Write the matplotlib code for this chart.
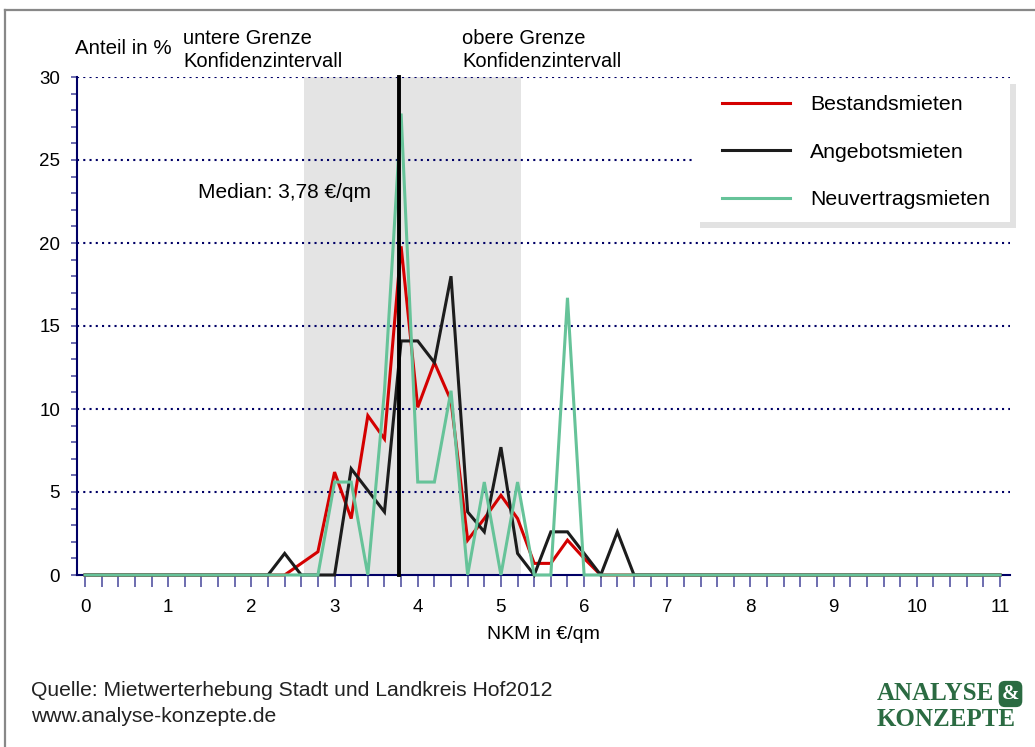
import numpy as np
import matplotlib.pyplot as plt
from matplotlib.patches import Rectangle
from matplotlib.lines import Line2D

# NKM in €/qm, Klassen in 0,2er Schritten
nkm = np.round(np.arange(0, 11.01, 0.2), 1)

# Anteil in % je Klasse (0,0 ... 2,0 sind leer)
bestand = [0.0] * 13 + [0.7, 1.4, 6.2, 3.4, 9.6, 8.2, 19.8, 10.1, 12.8, 10.5, 2.1, 3.4, 4.8, 3.4,
                        0.7, 0.7, 2.1, 1.0] + [0.0] * 25
angebot = [0.0] * 12 + [1.3, 0.0, 0.0, 0.0, 6.4, 5.1, 3.8, 14.1, 14.1, 12.8, 18.0, 3.8, 2.6, 7.7,
                        1.3, 0.0, 2.6, 2.6, 1.3, 0.0, 2.6] + [0.0] * 23
neuvertrag = [0.0] * 15 + [5.6, 5.6, 0.0, 11.1, 27.8, 5.6, 5.6, 11.1, 0.0, 5.6, 0.0, 5.6, 0.0,
                           0.0, 16.7] + [0.0] * 26

median = 3.78
ki_unten, ki_oben = 2.63, 5.24

serien = ["Bestandsmieten", "Angebotsmieten", "Neuvertragsmieten"]
farben = ["#d40000", "#1c1c1c", "#66c399"]

W, H = 1035, 747
navy = "#000066"
plt.rcParams['font.family'] = ['Liberation Sans', 'DejaVu Sans']


def fx(px):
    return px / W


def fy(py):
    return 1 - py / H


fig = plt.figure(figsize=(W / 100, H / 100), dpi=100)
ax = fig.add_axes([fx(76.7), fy(575), (1010 - 76.7) / W, (575 - 77) / H])

# Konfidenzintervall
ax.axvspan(ki_unten, ki_oben, ymin=0, ymax=1, color="#e4e4e4", lw=0, zorder=0)

# gepunktete Hilfslinien
for y in range(5, 31, 5):
    ax.axhline(y, color=navy, lw=1.5, ls=(0, (1, 2)), zorder=1)

for werte, farbe in zip([bestand, angebot, neuvertrag], farben):
    ax.plot(nkm, werte, color=farbe, lw=2.2, zorder=3, clip_on=False, solid_joinstyle='miter')

ax.plot([median, median], [0, 30], color="black", lw=2.8, zorder=4, clip_on=False)

ax.set_xlim(-0.1, 11.12)
ax.set_ylim(0, 30)
ax.set_xticks(range(0, 12))
ax.set_xticks(np.arange(0, 11.01, 0.2), minor=True)
ax.set_yticks(range(0, 31, 5))
ax.set_yticks(range(0, 31), minor=True)
ax.tick_params(axis='x', which='both', direction='out', length=8.6, width=1.1,
               color="#45459a", labelsize=13.5, pad=9)
ax.tick_params(axis='y', which='both', direction='out', length=4.4, width=1.1,
               color="#45459a", labelsize=13.5, pad=7.5)
for s in ['top', 'right']:
    ax.spines[s].set_visible(False)
for s in ['left', 'bottom']:
    ax.spines[s].set_color(navy)
    ax.spines[s].set_linewidth(1.5)
    ax.spines[s].set_zorder(2)
ax.set_xlabel("NKM in €/qm", fontsize=14, labelpad=7)

# Legende mit Schatten
fig.patches.append(Rectangle((fx(700), fy(228)), (1016 - 700) / W, (228 - 84) / H,
                             transform=fig.transFigure, facecolor="#e2e2e2", lw=0, zorder=5))
fig.patches.append(Rectangle((fx(694), fy(222)), (1010 - 694) / W, (222 - 79) / H,
                             transform=fig.transFigure, facecolor="white", lw=0, zorder=6))
handles = [Line2D([], [], color=f, lw=2.2) for f in farben]
leg = fig.legend(handles, serien, loc='upper left', bbox_to_anchor=(fx(705), fy(78)),
                 frameon=False, fontsize=15.3, handlelength=3.2, handletextpad=0.95,
                 labelspacing=1.35, borderpad=0.3)
leg.set_zorder(7)

# Beschriftungen
fig.text(fx(75), fy(48), "Anteil in %", fontsize=14.8, va='center')
fig.text(fx(183), fy(50), "untere Grenze\nKonfidenzintervall", fontsize=14.5, va='center',
         linespacing=1.3)
fig.text(fx(462), fy(50), "obere Grenze\nKonfidenzintervall", fontsize=14.5, va='center',
         linespacing=1.3)
fig.text(fx(198), fy(193), "Median: 3,78 €/qm", fontsize=15, va='center')
fig.text(fx(31), fy(690), "Quelle: Mietwerterhebung Stadt und Landkreis Hof2012", fontsize=15.2,
         va='center', color="#222222")
fig.text(fx(31), fy(716), "www.analyse-konzepte.de", fontsize=15.2, va='center', color="#222222")

# Logo
gruen = "#2b6b42"
fig.text(fx(877), fy(694), "ANALYSE", fontsize=18, family='Liberation Serif', weight='bold',
         color=gruen, va='center')
fig.text(fx(1010.5), fy(694), "&", fontsize=15, family='Liberation Serif', weight='bold',
         color="white", va='center', ha='center',
         bbox=dict(boxstyle='round,pad=0.15,rounding_size=0.3', facecolor=gruen, edgecolor='none'))
fig.text(fx(877), fy(720), "KONZEPTE", fontsize=18, family='Liberation Serif', weight='bold',
         color=gruen, va='center')

# Rahmen
fig.add_artist(Line2D([fx(5), fx(5)], [fy(10), 0], color="#888888", lw=1.6))
fig.add_artist(Line2D([fx(5), 1], [fy(10), fy(10)], color="#888888", lw=1.6))

fig.savefig("out.png", dpi=100)
